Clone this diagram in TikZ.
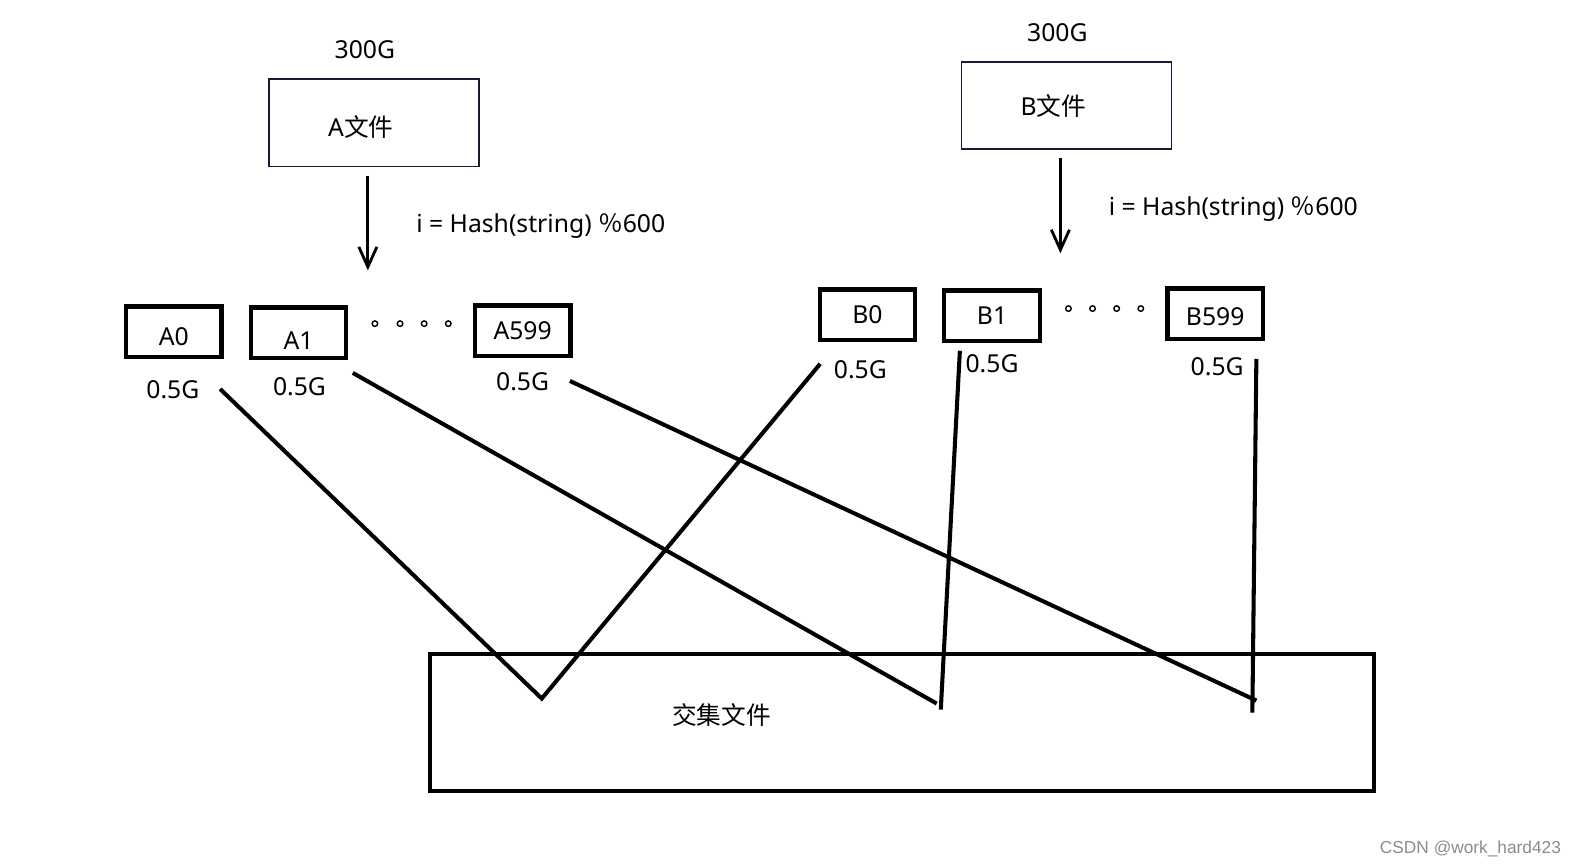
\documentclass[tikz,border=0pt]{standalone}
\usepackage{fontspec}
\setmainfont{Noto Sans}
\newfontfamily\cjk{Noto Sans CJK SC}
\newfontfamily\wmfont{Liberation Sans}
\usetikzlibrary{arrows.meta}
\definecolor{navy}{RGB}{20,28,55}

\begin{document}
\begin{tikzpicture}[x=0.02cm, y=-0.02cm, font=\fontsize{14pt}{16pt}\selectfont,
	f/.style={draw=navy, line width=0.9pt, minimum width=4.18cm, minimum height=1.74cm},
	p/.style={draw, line width=2.4pt, minimum width=1.9cm, minimum height=1.0cm, inner sep=0pt},
	low/.style={text height=#1, text depth=0pt},
	ln/.style={line width=2.3pt},
	dot/.style={circle, draw, line width=0.8pt, inner sep=0pt, minimum size=0.11cm}]
	\useasboundingbox (0,0) rectangle (1568,862.6);

	% source files
	\node[f, low=16pt] (A) at (372,122) {A{\cjk 文件}\kern0.52cm\relax};
	\node at (363,49) {300G};
	\node[f] (B) at (1061,105) {B{\cjk 文件}\kern0.52cm\relax};
	\node at (1052,32) {300G};

	\coordinate (a1) at (366,175);
	\coordinate (a2) at (366,269);
	\coordinate (b1) at (1055,157);
	\coordinate (b2) at (1055,252);
	\draw[line width=1.6pt, -{Straight Barb[length=4mm, width=3.6mm]}] (a1) -- (a2);
	\draw[line width=1.6pt, -{Straight Barb[length=4mm, width=3.6mm]}] (b1) -- (b2);
	\node[anchor=west] at (408,225) {i = Hash(string) {\cjk ％}600};
	\node[anchor=west] at (1097,208) {i = Hash(string) {\cjk ％}600};

	% small files
	\node[p, low=16pt] (A0) at (173,330) {A0};
	\node[p, low=18.5pt] (A1) at (297,331) {A1};
	\node[p] (A599) at (520,329) {A599};
	\node[p] (B0) at (863,313) {B0};
	\node[p] (B1) at (987,314) {B1};
	\node[p, low=13.4pt] (B599) at (1209,312) {B599};

	\node (sA0) at (172,388) {0.5G};
	\node (sA1) at (298,385) {0.5G};
	\node (sA599) at (520,380) {0.5G};
	\node (sB0) at (856,368) {0.5G};
	\node (sB1) at (987,362) {0.5G};
	\node (sB599) at (1211,365) {0.5G};

	\foreach \x in {373,398,422,446} \node[dot] at (\x,322) {};
	\foreach \x in {1063,1087,1111,1135} \node[dot] at (\x,307) {};

	% result file
	\node[draw, line width=2.1pt, minimum width=18.78cm, minimum height=2.72cm] (C) at (897.5,719) {};
	\node[font=\cjk\fontsize{14pt}{16pt}\selectfont] (Ct) at (718,711) {交集文件};

	\coordinate (p1) at (219,387);
	\coordinate (p2) at (816,362);
	\coordinate (p3) at (351,371);
	\coordinate (p4) at (955,349);
	\coordinate (p5) at (567,379);
	\coordinate (p6) at (1250,357);
	\coordinate (q1) at (539,695);
	\coordinate (q2) at (932,700);
	\coordinate (q3) at (936,706);
	\coordinate (q4) at (1250,697);
	\coordinate (q5) at (1246,709);

	\draw[ln] (p1) -- (q1) -- (p2);
	\draw[ln] (p3) -- (q2);
	\draw[ln] (p4) -- (q3);
	\draw[ln] (p5) -- (q4);
	\draw[ln] (p6) -- (q5);

	\node[text=black!45, font=\wmfont\fontsize{9.8pt}{11pt}\selectfont] (wm) at (1463,845) {CSDN @work\_hard423};
\end{tikzpicture}
\end{document}
